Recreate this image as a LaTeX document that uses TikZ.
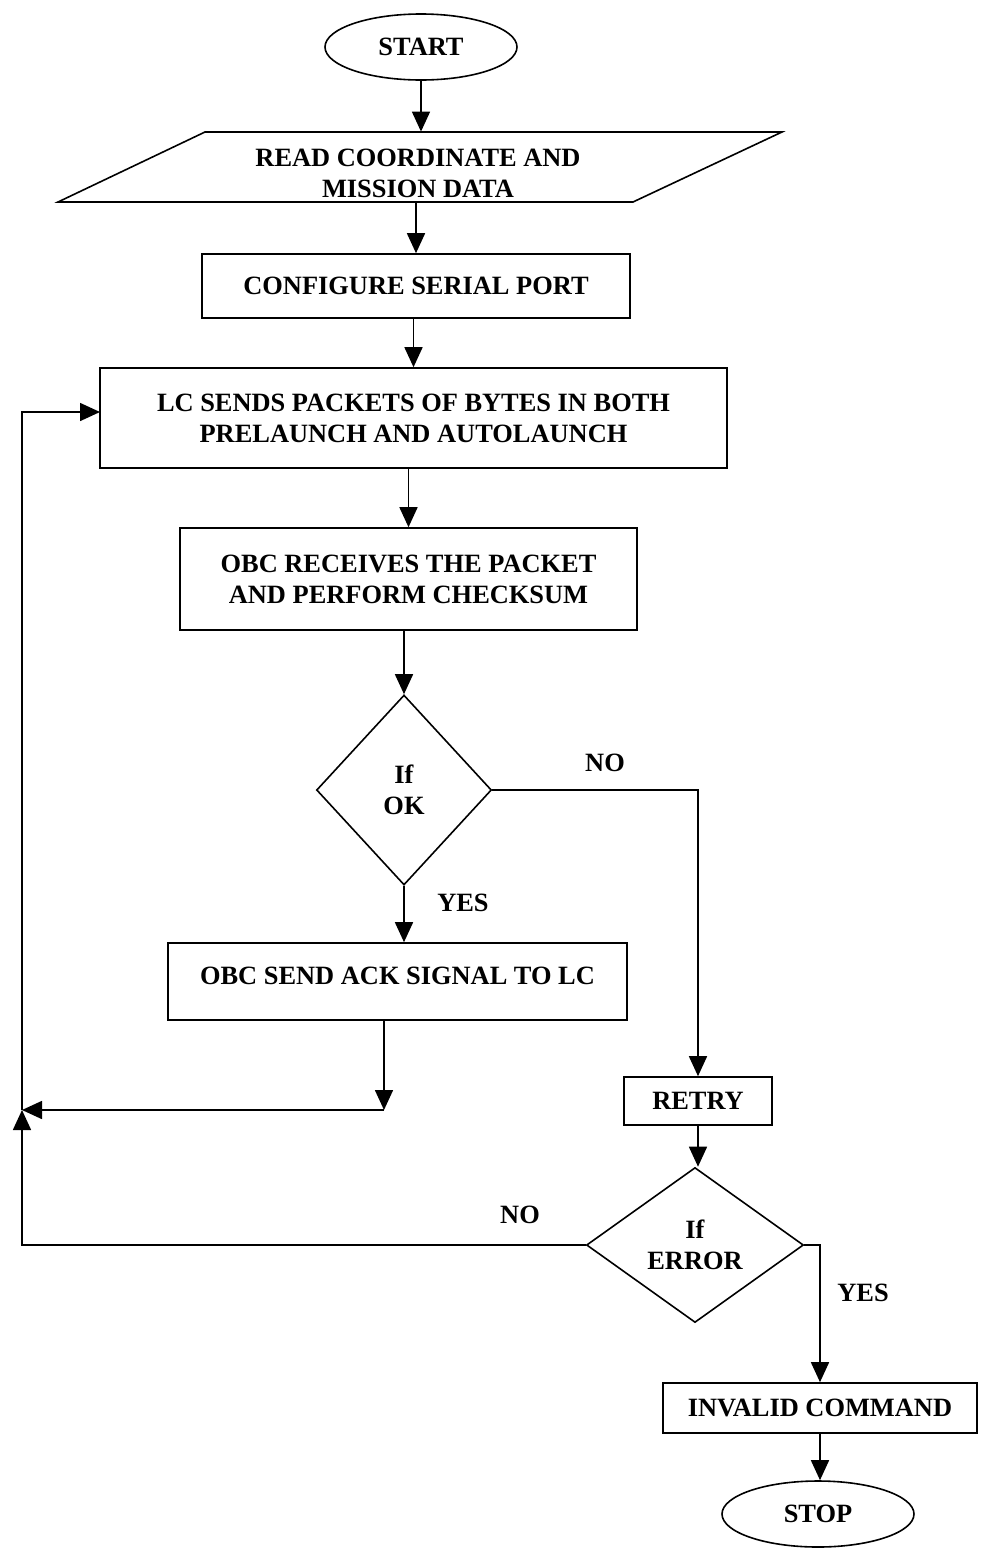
\documentclass[tikz,border=0pt]{standalone}
\usepackage{fontspec}
\setmainfont{Liberation Serif}
\usetikzlibrary{shapes.geometric,arrows.meta,calc}
\begin{document}
\begin{tikzpicture}[x=0.5pt,y=-0.5pt,
  every node/.style={font=\fontsize{13.2pt}{15.4pt}\selectfont\bfseries, align=center},
  proc/.style={draw, line width=0.8pt, rectangle, inner sep=0pt},
  term/.style={draw, line width=0.8pt, ellipse, inner sep=0pt, minimum width=96pt, minimum height=33pt},
  dec/.style={draw, line width=0.8pt, diamond, inner sep=0pt},
  lbl/.style={inner sep=0pt},
  arr/.style={line width=0.8pt, -{Triangle[length=10pt,width=9pt]}},
  ln/.style={line width=0.8pt}]
\useasboundingbox (0,0) rectangle (986,1548);

% nodes
\node[term] (start) at (421,47) {START};
\draw[ln] (205,132) -- (782,132) -- (633,202) -- (58,202) -- cycle;
\node[inner sep=0pt, minimum height=35pt, minimum width=200pt,
      label={[inner sep=0pt, yshift=-3pt]center:READ COORDINATE AND\\MISSION DATA}] (read) at (418,167) {};
\node[proc, minimum width=214pt, minimum height=32pt] (config) at (416,286) {CONFIGURE SERIAL PORT};
\node[proc, minimum width=313.5pt, minimum height=50pt] (lc) at (413.5,418) {LC SENDS PACKETS OF BYTES IN BOTH\\PRELAUNCH AND AUTOLAUNCH};
\node[proc, minimum width=228.5pt, minimum height=51pt] (obc) at (408.5,579) {OBC RECEIVES THE PACKET\\AND PERFORM CHECKSUM};
\node[dec, minimum width=87.5pt, minimum height=95pt] (ok) at (404,790) {If\\OK};
\node[proc, minimum width=229.5pt, minimum height=38.5pt, text depth=6pt] (ack) at (397.5,981.5) {OBC SEND ACK SIGNAL TO LC};
\node[proc, minimum width=74pt, minimum height=24pt] (retry) at (698,1101) {RETRY};
\node[dec, minimum width=108.5pt, minimum height=77.5pt] (err) at (695,1245) {If\\ERROR};
\node[proc, minimum width=157pt, minimum height=25pt] (invalid) at (820,1408) {INVALID COMMAND};
\node[term] (stop) at (818,1514) {STOP};

% labels
\node[lbl] (no1) at (605,763) {NO};
\node[lbl] (yes1) at (463,903) {YES};
\node[lbl] (no2) at (520,1215) {NO};
\node[lbl] (yes2) at (863,1293) {YES};

% helper coordinates
\coordinate (k) at (384,1110);
\coordinate (j) at (22,1110);
\coordinate (lcin) at (100,412);

% connectors
\draw[arr] (start.south) -- (start.south |- read.north);
\draw[arr] (config.north |- read.south) -- (config.north);
\draw[arr] (lc.north |- config.south) -- (lc.north);
\draw[arr] (obc.north |- lc.south) -- (obc.north);
\draw[arr] (ok.north |- obc.south) -- (ok.north);
\draw[arr] (ok.south) -- (ok.south |- ack.north);
\draw[arr] (ok.east) -| (retry.north);
\draw[arr] (k |- ack.south) -- (k);
\draw[arr] (k) -- (j);
\draw[arr] (err.west) -| (j);
\draw[arr] (j) |- (lcin);
\draw[arr] (retry.south) -- (retry.south |- err.north);
\draw[arr] (err.east) -| (invalid.north);
\draw[arr] (invalid.south) -- (invalid.south |- stop.north);
\end{tikzpicture}
\end{document}
